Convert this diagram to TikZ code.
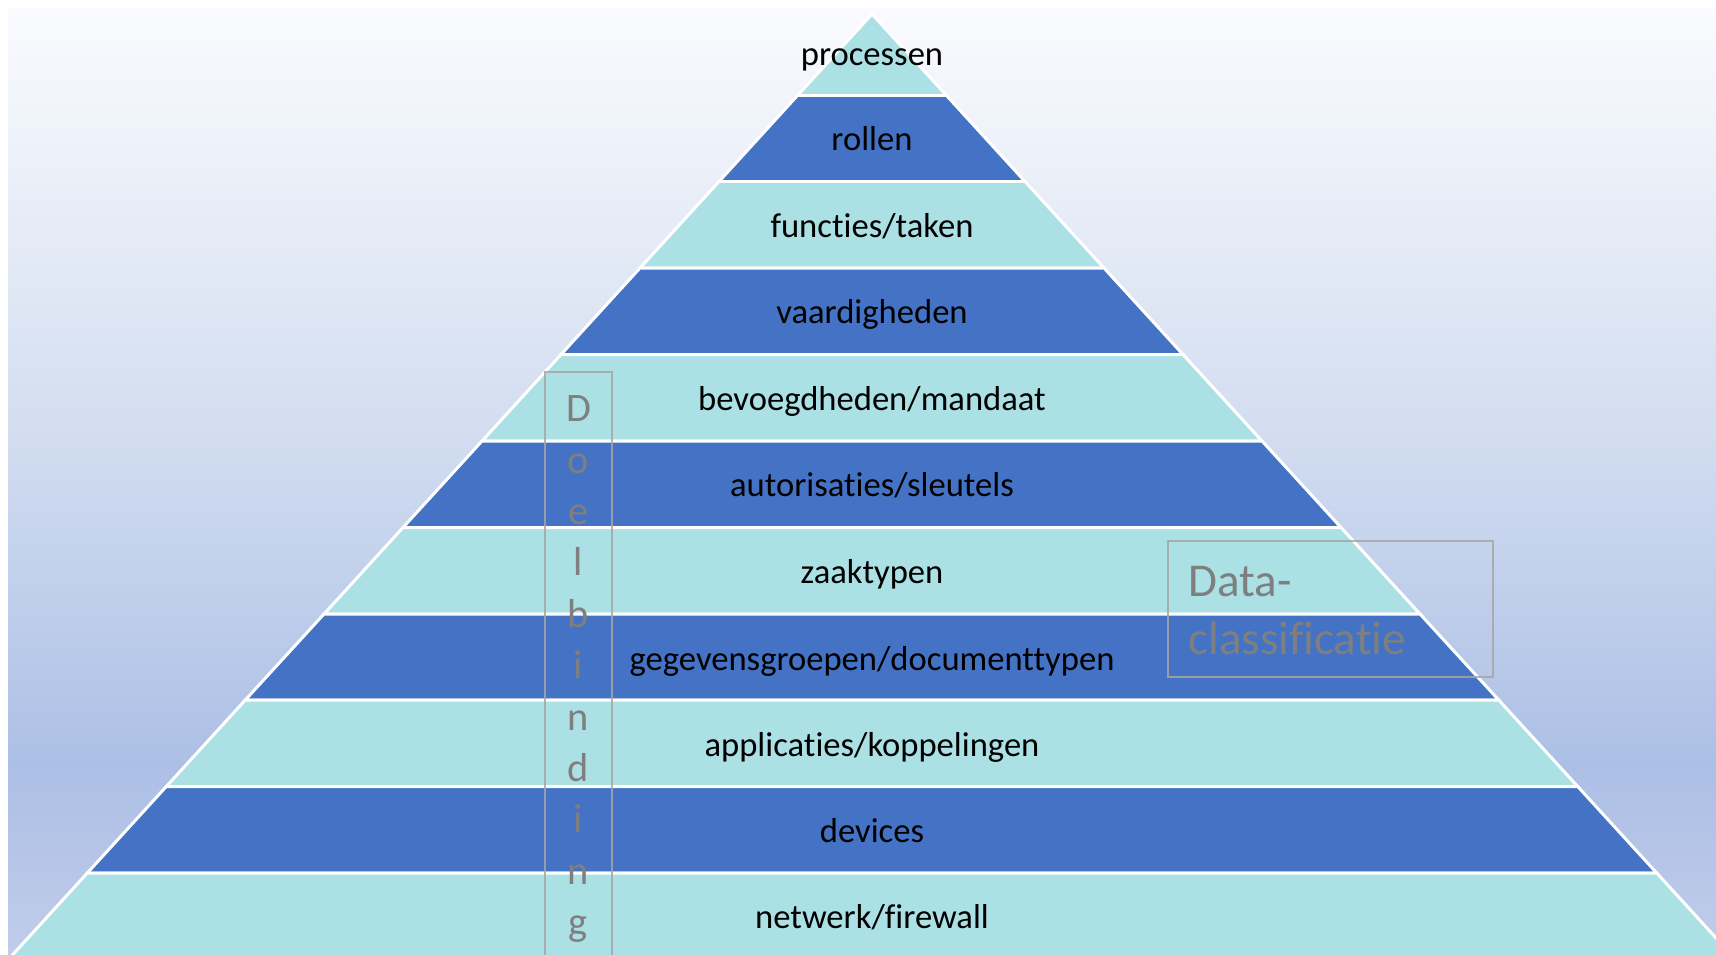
\documentclass[tikz,border=0pt]{standalone}
\usepackage{fontspec}
\setmainfont{Carlito}[Ligatures=NoCommon]
\usepackage{tikz}

\definecolor{bandlight}{RGB}{171,224,229}
\definecolor{banddark}{RGB}{68,114,196}
\definecolor{notegray}{RGB}{127,127,127}
\definecolor{framegray}{RGB}{166,166,166}
\definecolor{bgtop}{RGB}{250,251,254}
\definecolor{bgmid}{RGB}{210,221,240}
\definecolor{bgdeep}{RGB}{172,191,229}
\definecolor{bgbottom}{RGB}{193,204,234}
\pgfdeclareverticalshading{bgfade}{100bp}{color(0bp)=(bgbottom); color(25bp)=(bgbottom); color(35bp)=(bgdeep); color(52.5bp)=(bgmid); color(75bp)=(bgtop); color(100bp)=(bgtop)}

\begin{document}
\begin{tikzpicture}[x=0.02cm, y=-0.02cm,
    band/.style={draw=white, line width=1.7pt, line join=miter},
    bandlabel/.style={anchor=base, inner sep=0pt, text=black, font=\fontsize{19.7pt}{23pt}\selectfont},
    noteframe/.style={draw=framegray, draw opacity=0.85, line width=1pt},
    doelletter/.style={anchor=base, inner sep=0pt, text=notegray, font=\fontsize{23pt}{29pt}\selectfont},
    dataline/.style={anchor=base west, inner sep=0pt, text=notegray, font=\fontsize{26.8pt}{33pt}\selectfont}]

      \useasboundingbox (0,0) rectangle (1716,954);
      \clip (0,0) rectangle (1716,954);

      % achtergrond
      \fill[white] (0,0) rectangle (1716,954);
      \shade[shading=bgfade] (8,8) rectangle (1716,954);

      % lagen van de piramide
      \draw[band, fill=bandlight] (872,14) -- (946.5,95.5) -- (797.5,95.5) -- cycle;
      \draw[band, fill=banddark] (797.5,95.5) -- (946.5,95.5) -- (1025,181.5) -- (719,181.5) -- cycle;
      \draw[band, fill=bandlight] (719,181.5) -- (1025,181.5) -- (1104,268) -- (640,268) -- cycle;
      \draw[band, fill=banddark] (640,268) -- (1104,268) -- (1183,354.5) -- (561,354.5) -- cycle;
      \draw[band, fill=bandlight] (561,354.5) -- (1183,354.5) -- (1262,441) -- (482,441) -- cycle;
      \draw[band, fill=banddark] (482,441) -- (1262,441) -- (1341,527.5) -- (403,527.5) -- cycle;
      \draw[band, fill=bandlight] (403,527.5) -- (1341,527.5) -- (1420,614) -- (324,614) -- cycle;
      \draw[band, fill=banddark] (324,614) -- (1420,614) -- (1498.7,700) -- (245.3,700) -- cycle;
      \draw[band, fill=bandlight] (245.3,700) -- (1498.7,700) -- (1577.7,786.5) -- (166.3,786.5) -- cycle;
      \draw[band, fill=banddark] (166.3,786.5) -- (1577.7,786.5) -- (1656.7,873) -- (87.3,873) -- cycle;
      \draw[band, fill=bandlight] (87.3,873) -- (1656.7,873) -- (1735.7,959.5) -- (8.3,959.5) -- cycle;

      \node[bandlabel] (processen) at (872,65) {processen};
      \node[bandlabel] (rollen) at (872,150) {rollen};
      \node[bandlabel] (functies) at (872,237) {functies/taken};
      \node[bandlabel] (vaardigheden) at (872,323.5) {vaardigheden};
      \node[bandlabel] (bevoegdheden) at (872,410) {bevoegdheden/mandaat};
      \node[bandlabel] (autorisaties) at (872,496.5) {autorisaties/sleutels};
      \node[bandlabel] (zaaktypen) at (872,583) {zaaktypen};
      \node[bandlabel] (gegevensgroepen) at (872,670) {gegevensgroepen/documenttypen};
      \node[bandlabel] (applicaties) at (872,756) {applicaties/koppelingen};
      \node[bandlabel] (devices) at (872,842.5) {devices};
      \node[bandlabel] (netwerk) at (872,928.5) {netwerk/firewall};

      % Doelbinding
      \draw[noteframe] (545,372) rectangle (612,970);
      \node[doelletter] (doel1) at (578.5,421.7) {D};
      \node[doelletter] (doel2) at (578.5,473.1) {o};
      \node[doelletter] (doel3) at (578.5,524.5) {e};
      \node[doelletter] (doel4) at (578.5,575.9) {l};
      \node[doelletter] (doel5) at (578.5,627.3) {b};
      \node[doelletter] (doel6) at (578.5,678.7) {i};
      \node[doelletter] (doel7) at (578.5,730.1) {n};
      \node[doelletter] (doel8) at (578.5,781.5) {d};
      \node[doelletter] (doel9) at (578.5,832.9) {i};
      \node[doelletter] (doel10) at (578.5,884.3) {n};
      \node[doelletter] (doel11) at (578.5,935.7) {g};

      % Data-classificatie
      \draw[noteframe] (1168,541) rectangle (1493,677);
      \node[dataline] (data) at (1188,596) {Data-};
      \node[dataline] (classificatie) at (1188,654) {classificatie};
    \end{tikzpicture}
\end{document}
